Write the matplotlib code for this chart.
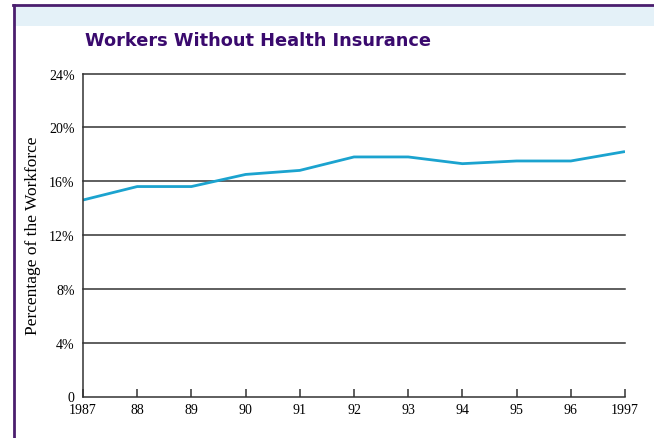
import matplotlib.pyplot as plt
from matplotlib.patches import Rectangle
from matplotlib.lines import Line2D

# Share of workers without health insurance, 1987-1997
years = [1987, 1988, 1989, 1990, 1991, 1992, 1993, 1994, 1995, 1996, 1997]
pct_uninsured = [14.6, 15.6, 15.6, 16.5, 16.8, 17.8, 17.8, 17.3, 17.5, 17.5, 18.2]
year_labels = ["1987", "88", "89", "90", "91", "92", "93", "94", "95", "96", "1997"]
y_ticks = [0, 4, 8, 12, 16, 20, 24]
y_labels = ["0", "4%", "8%", "12%", "16%", "20%", "24%"]

W, H = 654, 439
fig = plt.figure(figsize=(W / 100, H / 100), dpi=100)
fig.patch.set_facecolor("white")

# page frame: light blue band with purple rules on top and left
fig.patches.append(Rectangle((15 / W, 1 - 27 / H), 1, 20 / H,
                             transform=fig.transFigure, facecolor="#e4f1f8",
                             edgecolor="none"))
fig.lines.append(Line2D([13 / W, 1], [1 - 6 / H, 1 - 6 / H],
                        transform=fig.transFigure, color="#4b1e6e", lw=2))
fig.lines.append(Line2D([14 / W, 14 / W], [0, 1 - 6 / H],
                        transform=fig.transFigure, color="#4b1e6e", lw=2))

ax = fig.add_axes([83 / W, (H - 397.5) / H, 542 / W, 323 / H])
ax.plot(years, pct_uninsured, color="#1ba3cf", lw=2, solid_capstyle="butt")

ax.set_xlim(1987, 1997)
ax.set_ylim(0, 24)
for v in y_ticks[1:]:
    ax.axhline(v, color="#333333", lw=1.1, zorder=0, clip_on=False)

serif = "Liberation Serif"
ax.set_xticks(years)
ax.set_xticklabels(year_labels, fontfamily=serif, fontsize=10)
ax.set_yticks(y_ticks)
ax.set_yticklabels(y_labels, fontfamily=serif, fontsize=10)
ax.tick_params(axis="x", direction="in", length=6, width=1.1, color="#333333", pad=5)
ax.tick_params(axis="y", length=0, pad=6)

for side in ("top", "right"):
    ax.spines[side].set_visible(False)
for side in ("left", "bottom"):
    ax.spines[side].set_color("#333333")
    ax.spines[side].set_linewidth(1.1)

ax.set_ylabel("Percentage of the Workforce", fontfamily=serif, fontsize=12.5,
              labelpad=6)

fig.text(85 / W, 1 - 41 / H, "Workers Without Health Insurance",
         fontfamily="DejaVu Sans", fontweight="heavy", fontsize=12.8,
         color="#3a0a6e", va="center", ha="left")

fig.savefig("out.png", dpi=100)
